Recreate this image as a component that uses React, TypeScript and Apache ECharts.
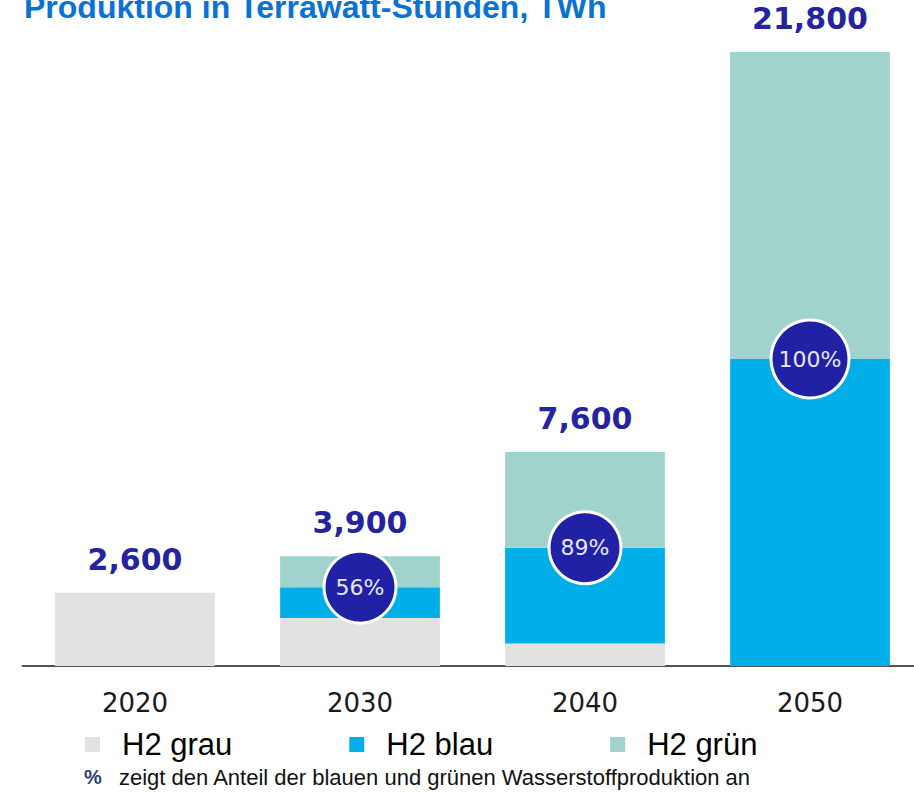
import React, { useEffect, useRef } from "react";
import * as echarts from "echarts";

const categories = ["2020", "2030", "2040", "2050"];
const grau = [2600, 1700, 800, 0];
const blau = [0, 1100, 3400, 10900];
const gruen = [0, 1100, 3400, 10900];
const totals = [2600, 3900, 7600, 21800];
const shares: (number | null)[] = [null, 56, 89, 100];

const titleText = "Produktion in Terrawatt-Stunden, TWh";
const footnoteText = "zeigt den Anteil der blauen und grünen Wasserstoffproduktion an";

const fmt = (v: number) => v.toLocaleString("en-US");

export default function App() {
  const ref = useRef<HTMLDivElement>(null);
  useEffect(() => {
    if (!ref.current) return;
    const chart = echarts.init(ref.current, null, { renderer: "svg" });
    const circleData = categories.map((c, i) =>
      shares[i] == null ? null : grau[i] + blau[i]
    );
    chart.setOption({
      animation: false,
      backgroundColor: "#ffffff",
      grid: {
        left: 22.5,
        width: 900,
        top: 52,
        bottom: 126,
        outerBoundsMode: "none",
        containLabel: false,
      },
      xAxis: {
        type: "category",
        data: categories,
        axisLine: { lineStyle: { color: "#555555", width: 2 } },
        axisTick: { show: false },
        axisLabel: {
          margin: 24,
          color: "#1a1a1a",
          fontSize: 26,
          fontFamily: "DejaVu Sans",
        },
      },
      yAxis: {
        type: "value",
        min: 0,
        max: 21800,
        show: false,
        splitLine: { show: false },
      },
      legend: {
        data: ["H2 grau", "H2 blau", "H2 grün"],
        left: 80,
        top: 724,
        icon: "rect",
        itemWidth: 15,
        itemHeight: 15,
        itemGap: 117,
        textStyle: {
          fontFamily: "Liberation Sans, Arial",
          fontSize: 31,
          color: "#000000",
          padding: [0, 0, 0, 17],
        },
      },
      graphic: [
        {
          type: "text",
          left: 24,
          top: -9,
          style: {
            text: titleText,
            fontFamily: "Liberation Sans, Arial",
            fontWeight: "bold",
            fontSize: 32,
            fill: "#0A72D4",
          },
        },
        {
          type: "text",
          x: 84,
          y: 777,
          style: {
            text: "%",
            fontFamily: "Liberation Sans, Arial",
            fontWeight: "bold",
            fontSize: 20,
            fill: "#2B3F6E",
            verticalAlign: "middle",
          },
        },
        {
          type: "text",
          x: 119,
          y: 777,
          style: {
            text: footnoteText,
            fontFamily: "Liberation Sans, Arial",
            fontSize: 22,
            fill: "#111111",
            verticalAlign: "middle",
          },
        },
      ],
      series: [
        {
          name: "H2 grau",
          type: "bar",
          stack: "t",
          barWidth: "71%",
          data: grau,
          itemStyle: { color: "#E2E2E2" },
        },
        {
          name: "H2 blau",
          type: "bar",
          stack: "t",
          data: blau,
          itemStyle: { color: "#00AEE9" },
        },
        {
          name: "H2 grün",
          type: "bar",
          stack: "t",
          data: gruen,
          itemStyle: { color: "#A0D3CB" },
        },
        {
          name: "total",
          type: "scatter",
          data: totals,
          symbolSize: 1,
          itemStyle: { color: "rgba(0,0,0,0)", opacity: 1 },
          silent: true,
          z: 5,
          label: {
            show: true,
            position: "top",
            distance: 18,
            formatter: (p: any) => fmt(totals[p.dataIndex]),
            fontFamily: "DejaVu Sans",
            fontWeight: "bold",
            fontSize: 30,
            color: "#2424A0",
            opacity: 1,
          },
        },
        {
          name: "share",
          type: "scatter",
          data: circleData,
          symbol: "circle",
          symbolSize: (v: any, p: any) => (shares[p.dataIndex] === 100 ? 78 : 72),
          itemStyle: {
            color: "#2121A6",
            borderColor: "#ffffff",
            borderWidth: 3,
            opacity: 1,
          },
          z: 6,
          label: {
            show: true,
            position: "inside",
            formatter: (p: any) =>
              shares[p.dataIndex] == null ? "" : shares[p.dataIndex] + "%",
            fontFamily: "DejaVu Sans",
            fontSize: 22,
            color: "#E8E8F8",
          },
        },
      ],
    });
    return () => chart.dispose();
  }, []);
  return (
    <div
      ref={ref}
      style={{ position: "fixed", left: 0, top: 0, width: 914, height: 792 }}
    />
  );
}
